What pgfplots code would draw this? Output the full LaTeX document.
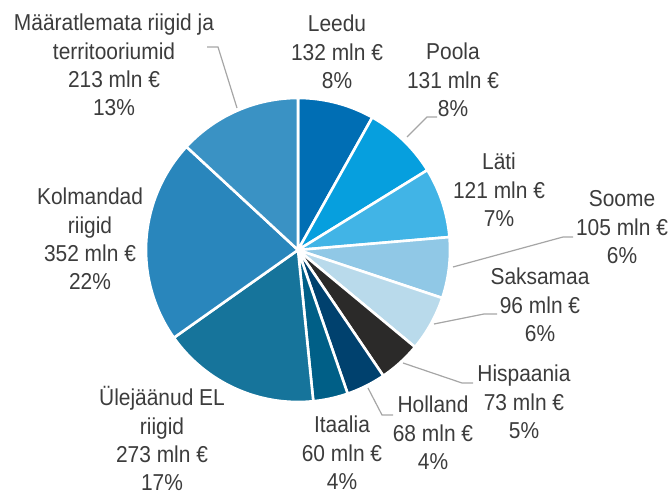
\documentclass[border=0pt]{standalone}
\usepackage{pgfplots}
\pgfplotsset{compat=1.18}
\usepackage{fontspec}
\setmainfont{Liberation Sans}[FakeStretch=0.91]
\definecolor{cLeedu}{HTML}{006EB4}
\definecolor{cPoola}{HTML}{069FDE}
\definecolor{cLati}{HTML}{41B4E6}
\definecolor{cSoome}{HTML}{90C8E6}
\definecolor{cSaksa}{HTML}{B9DAEB}
\definecolor{cHisp}{HTML}{2B2A29}
\definecolor{cHoll}{HTML}{00416E}
\definecolor{cItaa}{HTML}{005F87}
\definecolor{cEL}{HTML}{16749B}
\definecolor{cKolm}{HTML}{2986BC}
\definecolor{cMaar}{HTML}{3A92C4}
\definecolor{txt}{HTML}{3C3C3C}
\definecolor{ldr}{HTML}{A6A6A6}
\newcommand\total{1624}
\xdef\cum{0}
\newcommand\slice[2]{%
  \pgfmathsetmacro\sa{90-(\cum/\total)*360}%
  \pgfmathsetmacro\cumnew{\cum+#1}%
  \pgfmathsetmacro\sb{90-(\cumnew/\total)*360}%
  \xdef\cum{\cumnew}%
  \edef\tmp{\noexpand\addplot[fill=#2, draw=white, line width=2.6pt, line join=round,
    domain=\sb:\sa, samples=60, variable=\noexpand\t]
    ({298+152*cos(\noexpand\t)},{245+152*sin(\noexpand\t)}) -- (axis cs:298,245) -- cycle;}%
  \tmp}
\newcommand\lab[3]{\foreach \l [count=\i] in {#3} {\node[anchor=base, inner sep=0pt, text=txt] at (#1,{#2+(\i-1)*28.3}) {\l};}}
\begin{document}
\begin{tikzpicture}[font=\fontsize{23bp}{28bp}\selectfont]
\useasboundingbox (0,0) rectangle (672bp,495bp);
\begin{axis}[at={(0,0)}, anchor=south west, scale only axis, width=672bp, height=495bp,
  xmin=0, xmax=672, ymin=0, ymax=495, hide axis, clip=false]
\slice{132}{cLeedu}
\slice{131}{cPoola}
\slice{121}{cLati}
\slice{105}{cSoome}
\slice{96}{cSaksa}
\slice{73}{cHisp}
\slice{68}{cHoll}
\slice{60}{cItaa}
\slice{273}{cEL}
\slice{352}{cKolm}
\slice{213}{cMaar}
\end{axis}
\begin{scope}[x=1bp, y=-1bp, shift={(0,495bp)}]
\begin{scope}[draw=ldr, line width=1.2bp]
\draw (207,47) -- (218,47) -- (237,108);
\draw (437,117) -- (427,117) -- (407,137);
\draw (573,237) -- (563,237) -- (453,267);
\draw (497,314) -- (484,314) -- (434,324);
\draw (473,383) -- (462,383) -- (403,363);
\draw (393,415) -- (382,415) -- (368,388);
\end{scope}
\lab{114}{31}{Määratlemata riigid ja,territooriumid,213 mln €,13\%}
\lab{337}{32}{Leedu,132 mln €,8\%}
\lab{453}{60}{Poola,131 mln €,8\%}
\lab{499}{170}{Läti,121 mln €,7\%}
\lab{622}{207}{Soome,105 mln €,6\%}
\lab{540}{285}{Saksamaa,96 mln €,6\%}
\lab{524}{382}{Hispaania,73 mln €,5\%}
\lab{433}{413}{Holland,68 mln €,4\%}
\lab{342}{433}{Itaalia,60 mln €,4\%}
\lab{90}{205}{Kolmandad,riigid,352 mln €,22\%}
\lab{162}{406}{Ülejäänud EL,riigid,273 mln €,17\%}
\end{scope}
\end{tikzpicture}
\end{document}
